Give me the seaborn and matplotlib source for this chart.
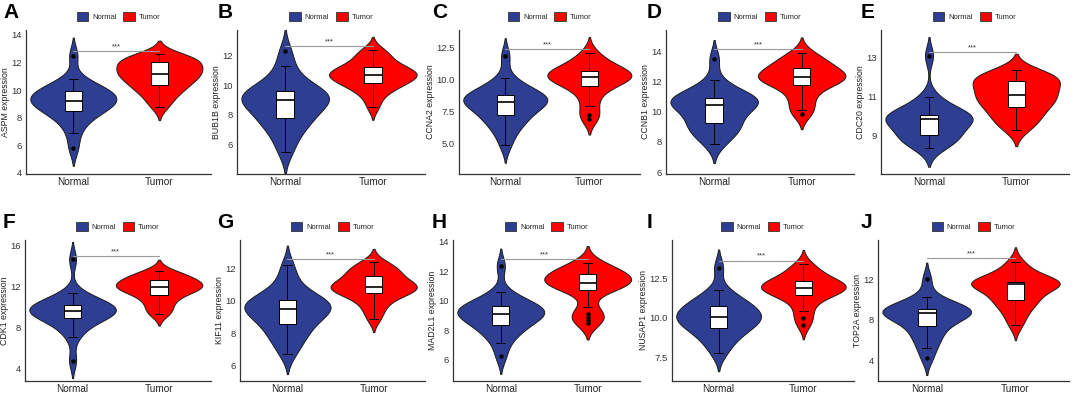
import numpy as np
import pandas as pd
import matplotlib
matplotlib.use("Agg")
import matplotlib.pyplot as plt
from matplotlib.patches import Patch
import seaborn as sns

sns.set_style("white")
plt.rcParams['font.family'] = ['Liberation Sans', 'DejaVu Sans']

# ---------------- data ----------------
letters = ["A", "B", "C", "D", "E", "F", "G", "H", "I", "J"]
genes = ["ASPM", "BUB1B", "CCNA2", "CCNB1", "CDC20",
         "CDK1", "KIF11", "MAD2L1", "NUSAP1", "TOP2A"]
groups = ["Normal", "Tumor"]

normal_vals = [
    [5.8, 6.9, 7.6, 8.0, 8.3, 8.5, 8.7, 8.85, 9.0, 9.1, 9.2, 9.35, 9.5, 9.6, 9.75, 9.9, 10.0, 10.15, 10.4, 10.8, 12.5],
    [5.5, 6.3, 6.9, 7.3, 7.6, 7.8, 8.1, 8.4, 8.6, 8.85, 9.0, 9.1, 9.2, 9.35, 9.5, 9.6, 9.8, 10.1, 10.6, 11.3, 12.3],
    [4.9, 5.8, 6.3, 6.7, 7.0, 7.2, 7.5, 7.8, 8.0, 8.15, 8.28, 8.4, 8.5, 8.6, 8.7, 8.82, 9.0, 9.25, 9.6, 10.1, 11.84],
    [7.83, 8.3, 8.6, 8.85, 9.05, 9.27, 9.5, 9.8, 10.05, 10.3, 10.46, 10.55, 10.65, 10.75, 10.82, 10.9, 11.05, 11.25, 11.5, 12.06, 13.5],
    [8.38, 8.6, 8.75, 8.85, 8.95, 9.06, 9.25, 9.45, 9.6, 9.75, 9.86, 9.9, 9.95, 10.0, 10.05, 10.08, 10.2, 10.4, 10.7, 11.0, 13.1],
    [4.73, 7.05, 7.8, 8.3, 8.7, 8.93, 9.1, 9.25, 9.4, 9.52, 9.64, 9.75, 9.85, 9.95, 10.1, 10.21, 10.4, 10.6, 10.9, 11.32, 14.66],
    [6.7, 7.3, 7.7, 8.0, 8.3, 8.58, 8.8, 9.0, 9.2, 9.35, 9.5, 9.6, 9.7, 9.8, 9.95, 10.06, 10.2, 10.45, 10.8, 11.4, 12.2],
    [6.22, 7.1, 7.6, 7.9, 8.15, 8.37, 8.55, 8.75, 8.9, 9.0, 9.11, 9.2, 9.3, 9.4, 9.5, 9.62, 9.75, 9.9, 10.15, 10.55, 12.33],
    [7.75, 8.3, 8.7, 8.95, 9.2, 9.38, 9.55, 9.7, 9.85, 9.95, 10.06, 10.15, 10.3, 10.45, 10.6, 10.76, 10.9, 11.1, 11.35, 11.74, 13.18],
    [4.2, 5.23, 5.9, 6.4, 6.9, 7.35, 7.7, 8.0, 8.25, 8.5, 8.71, 8.78, 8.84, 8.9, 8.97, 9.03, 9.2, 9.45, 9.8, 10.27, 12.0],
]
tumor_vals = [
    [8.8, 9.3, 9.7, 10.0, 10.2, 10.4, 10.6, 10.8, 10.95, 11.1, 11.2, 11.35, 11.5, 11.6, 11.75, 12.0, 12.1, 12.2, 12.3, 12.45, 12.6],
    [8.55, 9.2, 9.6, 9.85, 10.0, 10.15, 10.3, 10.45, 10.55, 10.65, 10.7, 10.8, 10.9, 10.95, 11.1, 11.25, 11.4, 11.6, 11.9, 12.2, 12.4],
    [6.95, 7.2, 7.9, 8.6, 9.1, 9.5, 9.7, 9.85, 10.0, 10.1, 10.23, 10.3, 10.4, 10.5, 10.6, 10.7, 10.85, 11.0, 11.3, 11.7, 12.1],
    [9.84, 10.1, 10.6, 11.0, 11.4, 11.73, 11.9, 12.0, 12.1, 12.2, 12.28, 12.35, 12.45, 12.55, 12.7, 12.88, 13.0, 13.2, 13.4, 13.6, 13.9],
    [9.31, 9.6, 9.85, 10.05, 10.25, 10.46, 10.6, 10.75, 10.9, 11.0, 11.1, 11.25, 11.4, 11.55, 11.7, 11.81, 11.9, 12.0, 12.1, 12.2, 12.37],
    [9.26, 9.6, 10.1, 10.5, 10.9, 11.17, 11.4, 11.6, 11.75, 11.85, 11.96, 12.05, 12.15, 12.3, 12.45, 12.6, 12.75, 12.9, 13.1, 13.3, 13.55],
    [8.9, 9.4, 9.8, 10.1, 10.3, 10.47, 10.6, 10.7, 10.78, 10.83, 10.88, 10.95, 11.05, 11.2, 11.35, 11.53, 11.7, 11.85, 12.0, 12.2, 12.4],
    [8.5, 8.7, 8.9, 9.1, 9.55, 10.73, 10.85, 10.95, 11.05, 11.15, 11.22, 11.3, 11.4, 11.5, 11.6, 11.78, 11.9, 12.0, 12.15, 12.3, 12.55],
    [9.53, 10.0, 10.41, 10.9, 11.2, 11.44, 11.55, 11.65, 11.75, 11.82, 11.9, 11.98, 12.05, 12.12, 12.2, 12.3, 12.45, 12.6, 12.85, 13.1, 13.4],
    [7.45, 8.3, 8.9, 9.4, 9.75, 10.0, 10.3, 10.6, 10.95, 11.25, 11.5, 11.55, 11.6, 11.65, 11.7, 11.74, 11.9, 12.2, 12.6, 13.1, 13.7],
]
y_limits = [(3.9, 14.36), (4.0, 13.75), (2.6, 13.9), (5.87, 15.4), (7.06, 14.41),
            (2.73, 16.57), (5.04, 13.78), (4.55, 14.1), (6.0, 14.92), (1.98, 15.86)]
y_ticks = [[4, 6, 8, 10, 12, 14], [6, 8, 10, 12], [5.0, 7.5, 10.0, 12.5], [6, 8, 10, 12, 14], [9, 11, 13],
           [4, 8, 12, 16], [6, 8, 10, 12], [6, 8, 10, 12, 14], [7.5, 10.0, 12.5], [4, 8, 12]]
sig_label = "***"

# ---------------- style ----------------
palette = {"Normal": "#2E3F93", "Tumor": "#FF0000"}
W, H = 1072, 395
fig = plt.figure(figsize=(W / 100, H / 100), dpi=100)

lefts = [26, 237, 459, 666, 881, 25, 240, 453, 672, 878]
rows = [(30, 174), (240, 381)]

for i, gene in enumerate(genes):
    r, c = divmod(i, 5)
    col_x = c * 214.4
    left = lefts[i]
    right = col_x + 211
    top, bot = rows[r]
    ax = fig.add_axes([left / W, 1 - bot / H, (right - left) / W, (bot - top) / H])

    df = pd.DataFrame({
        "group": ["Normal"] * len(normal_vals[i]) + ["Tumor"] * len(tumor_vals[i]),
        "value": normal_vals[i] + tumor_vals[i],
    })
    sns.violinplot(data=df, x="group", y="value", hue="group", order=groups,
                   palette=palette, inner=None, width=1.0, cut=2, bw_adjust=0.85,
                   linewidth=0.7, linecolor="#1a1a1a", saturation=1, legend=False, ax=ax)
    sns.boxplot(data=df, x="group", y="value", order=groups, width=0.2,
                color="white", linecolor="black", linewidth=0.7, saturation=1,
                flierprops=dict(marker="o", markersize=2.2, markerfacecolor="black",
                                markeredgecolor="black"),
                medianprops=dict(linewidth=1.2, color="black"),
                ax=ax)

    ax.set_ylim(*y_limits[i])
    ax.set_xlim(-0.55, 1.6)
    ax.set_yticks(y_ticks[i])
    if isinstance(y_ticks[i][0], float):
        ax.set_yticklabels([f"{t:.1f}" for t in y_ticks[i]])
    ax.set_xlabel("")
    ax.set_ylabel(f"{gene} expression", fontsize=6.3, color="#222222", labelpad=1)
    ax.tick_params(axis="y", labelsize=6.8, colors="#333333", length=2, width=0.7, pad=1)
    ax.tick_params(axis="x", labelsize=7.2, colors="#333333", labelcolor="#222222",
                   length=2, width=0.7, pad=0.5)
    for s in ["top", "right"]:
        ax.spines[s].set_visible(False)
    for s in ["left", "bottom"]:
        ax.spines[s].set_color("#333333")
        ax.spines[s].set_linewidth(0.9)

    # significance bar
    ymax = max(max(normal_vals[i]), max(tumor_vals[i]))
    rng = y_limits[i][1] - y_limits[i][0]
    ybar = ymax + 0.025 * rng
    ax.plot([0, 1], [ybar, ybar], color="#9a9a9a", linewidth=0.8, zorder=5)
    ax.text(0.5, ybar + 0.005 * rng, sig_label, ha="center", va="bottom",
            fontsize=5.5, color="#333333")

    # legend
    handles = [Patch(facecolor=palette[g], edgecolor="#333333", linewidth=0.6, label=g)
               for g in groups]
    ax.legend(handles=handles, loc="lower center", bbox_to_anchor=(0.5, 1.04),
              ncol=2, frameon=False, fontsize=5.5, handlelength=1.5, handleheight=1.5,
              handletextpad=0.5, columnspacing=0.9, borderaxespad=0)

    # panel letter
    fig.text((col_x + 3) / W, 1 - (top - 18) / H, letters[i], fontsize=15,
             fontweight="bold", ha="left", va="center", color="black")

fig.savefig("out.png", dpi=100)
